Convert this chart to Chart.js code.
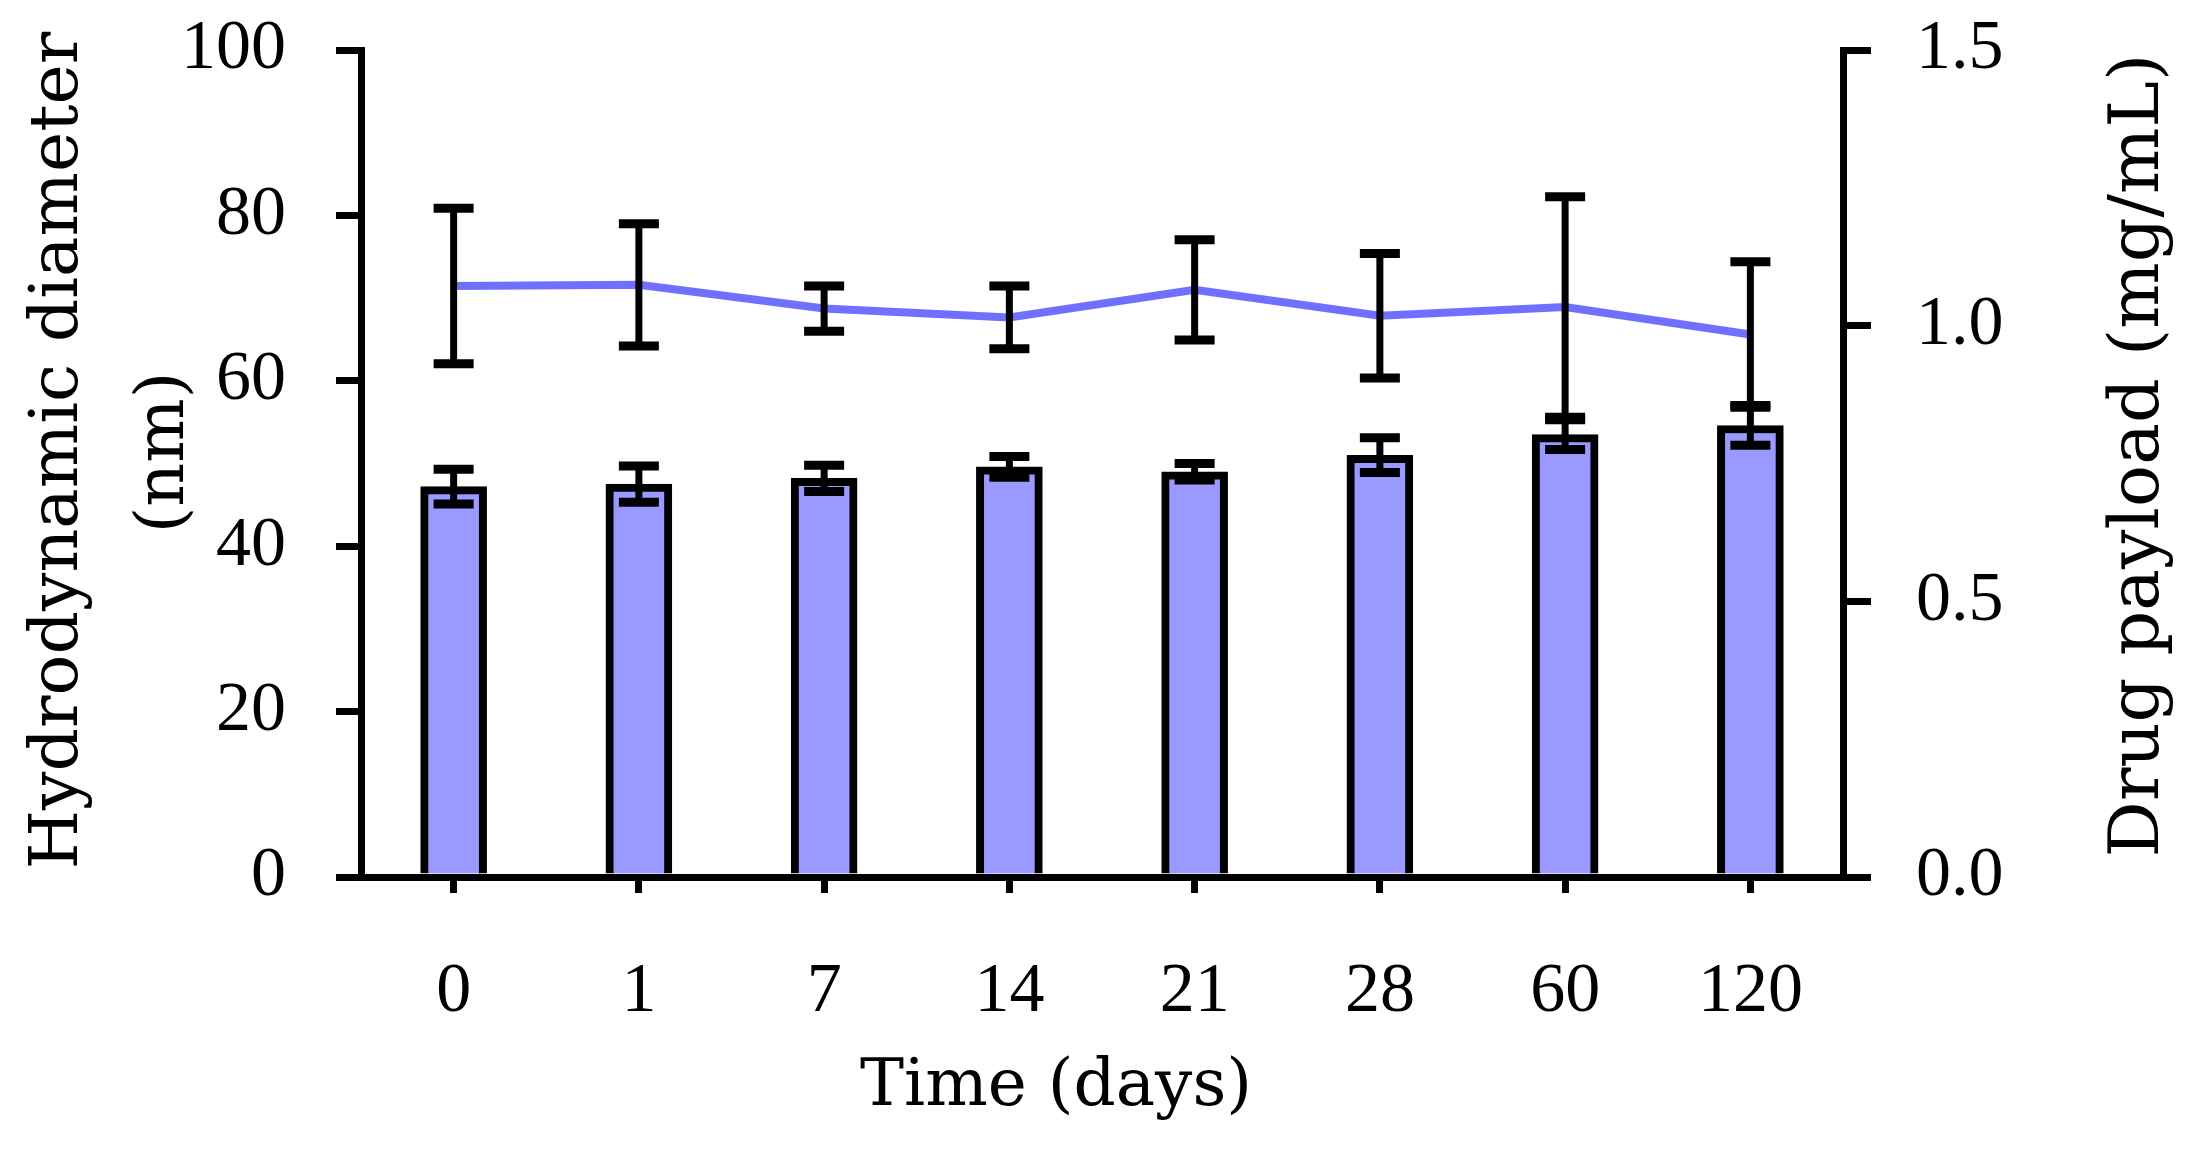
<!DOCTYPE html>
<html>
<head>
<meta charset="utf-8">
<script src="https://cdn.jsdelivr.net/npm/chart.js@4"></script>
<style>
body { margin: 0; background: #fff; }
#wrap { width: 2193px; height: 1157px; }
</style>
</head>
<body>
<div id="wrap"><canvas id="chart" width="2193" height="1157"></canvas></div>
<script>
const days = ['0', '1', '7', '14', '21', '28', '60', '120']
const diameter = [47.2, 47.5, 48.2, 49.6, 49.0, 51.0, 53.5, 54.6]
const diameterErr = [2.1, 2.2, 1.6, 1.25, 1.0, 2.1, 1.8, 2.4]
const payload = [1.072, 1.074, 1.031, 1.015, 1.065, 1.018, 1.034, 0.984]
const payloadErr = [0.141, 0.111, 0.041, 0.057, 0.091, 0.113, 0.2, 0.132]

const serif = '"DejaVu Serif", serif'
const tickSerif = '"Liberation Serif", serif'

// I-beam error bars on both series, drawn over everything
const errorBars = {
    id: 'errorBars',
    afterDatasetsDraw(chart) {
        const ctx = chart.ctx
        const x = chart.scales.x
        const sets = [[diameter, diameterErr, chart.scales.y], [payload, payloadErr, chart.scales.y1]]
        ctx.save()
        ctx.strokeStyle = '#000'
        sets.forEach(([vals, errs, scale]) => {
            vals.forEach((v, i) => {
                const px = x.getPixelForValue(i)
                const top = scale.getPixelForValue(v + errs[i])
                const bot = scale.getPixelForValue(v - errs[i])
                ctx.lineWidth = 7
                ctx.beginPath()
                ctx.moveTo(px, top)
                ctx.lineTo(px, bot)
                ctx.stroke()
                ctx.lineWidth = 9
                ctx.beginPath()
                ctx.moveTo(px - 20, top)
                ctx.lineTo(px + 20, top)
                ctx.moveTo(px - 20, bot)
                ctx.lineTo(px + 20, bot)
                ctx.stroke()
            })
        })
        ctx.restore()
    }
}

// axis titles, placed relative to the scale boxes
const axisTitles = {
    id: 'axisTitles',
    afterDraw(chart) {
        const {x, y, y1} = chart.scales
        const ctx = chart.ctx
        const put = (text, px, py, size, rot) => {
            ctx.save()
            ctx.translate(px, py)
            ctx.rotate(rot)
            ctx.font = size + 'px ' + serif
            ctx.fillStyle = '#000'
            ctx.textAlign = 'center'
            ctx.textBaseline = 'middle'
            ctx.fillText(text, 0, 0)
            ctx.restore()
        }
        const mid = (y.top + y.bottom) / 2
        put('Hydrodynamic diameter', y.left + 59, mid - 13, 68, -Math.PI / 2)
        put('(nm)', y.left + 165, mid - 11, 68, -Math.PI / 2)
        put('Drug payload (mg/mL)', y1.right - 53, mid - 8, 70, -Math.PI / 2)
        put('Time (days)', x.left + 695, x.bottom - 69, 66, 0)
    }
}

const tickFont = { family: tickSerif, size: 70 }

// fixed axis boxes so the plot area sits where the original does
const fitWidth = w => s => {
    s.width = w
    s.paddingTop = 0
    s.paddingBottom = 0
}

const config = {
    type: 'bar',
    data: {
        labels: days,
        datasets: [{
            type: 'line',
            label: 'Drug payload',
            data: payload,
            yAxisID: 'y1',
            borderColor: '#7070ff',
            borderWidth: 8,
            pointRadius: 0,
            tension: 0,
            order: 0
        }, {
            label: 'Hydrodynamic diameter',
            data: diameter,
            yAxisID: 'y',
            backgroundColor: '#9999ff',
            borderColor: '#000',
            borderWidth: 8,
            barThickness: 66,
            order: 1
        }]
    },
    options: {
        responsive: false,
        animation: false,
        devicePixelRatio: 1,
        layout: { padding: { top: 50, left: 0, right: 0, bottom: 0 } },
        plugins: {
            legend: { display: false },
            tooltip: { enabled: false }
        },
        scales: {
            x: {
                offset: true,
                grid: { offset: false, drawOnChartArea: false, drawTicks: true, tickLength: 16, lineWidth: 7, color: '#000' },
                border: { display: true, width: 7, color: '#000' },
                ticks: { color: '#000', font: tickFont, padding: 58, maxRotation: 0 },
                afterFit: s => {
                    s.height = 280
                    s.paddingLeft = 0
                    s.paddingRight = 0
                }
            },
            y: {
                position: 'left',
                min: 0,
                max: 100,
                ticks: { stepSize: 20, color: '#000', font: tickFont, padding: 50 },
                grid: { drawOnChartArea: false, drawTicks: true, tickLength: 25, lineWidth: 7, color: '#000' },
                border: { display: true, width: 7, color: '#000' },
                afterFit: fitWidth(361)
            },
            y1: {
                position: 'right',
                min: 0,
                max: 1.5,
                ticks: { stepSize: 0.5, color: '#000', font: tickFont, padding: 45, callback: v => v.toFixed(1) },
                grid: { drawOnChartArea: false, drawTicks: true, tickLength: 28, lineWidth: 7, color: '#000' },
                border: { display: true, width: 7, color: '#000' },
                afterFit: fitWidth(350)
            }
        }
    },
    plugins: [errorBars, axisTitles]
}

new Chart(document.getElementById('chart'), config)
</script>
</body>
</html>
